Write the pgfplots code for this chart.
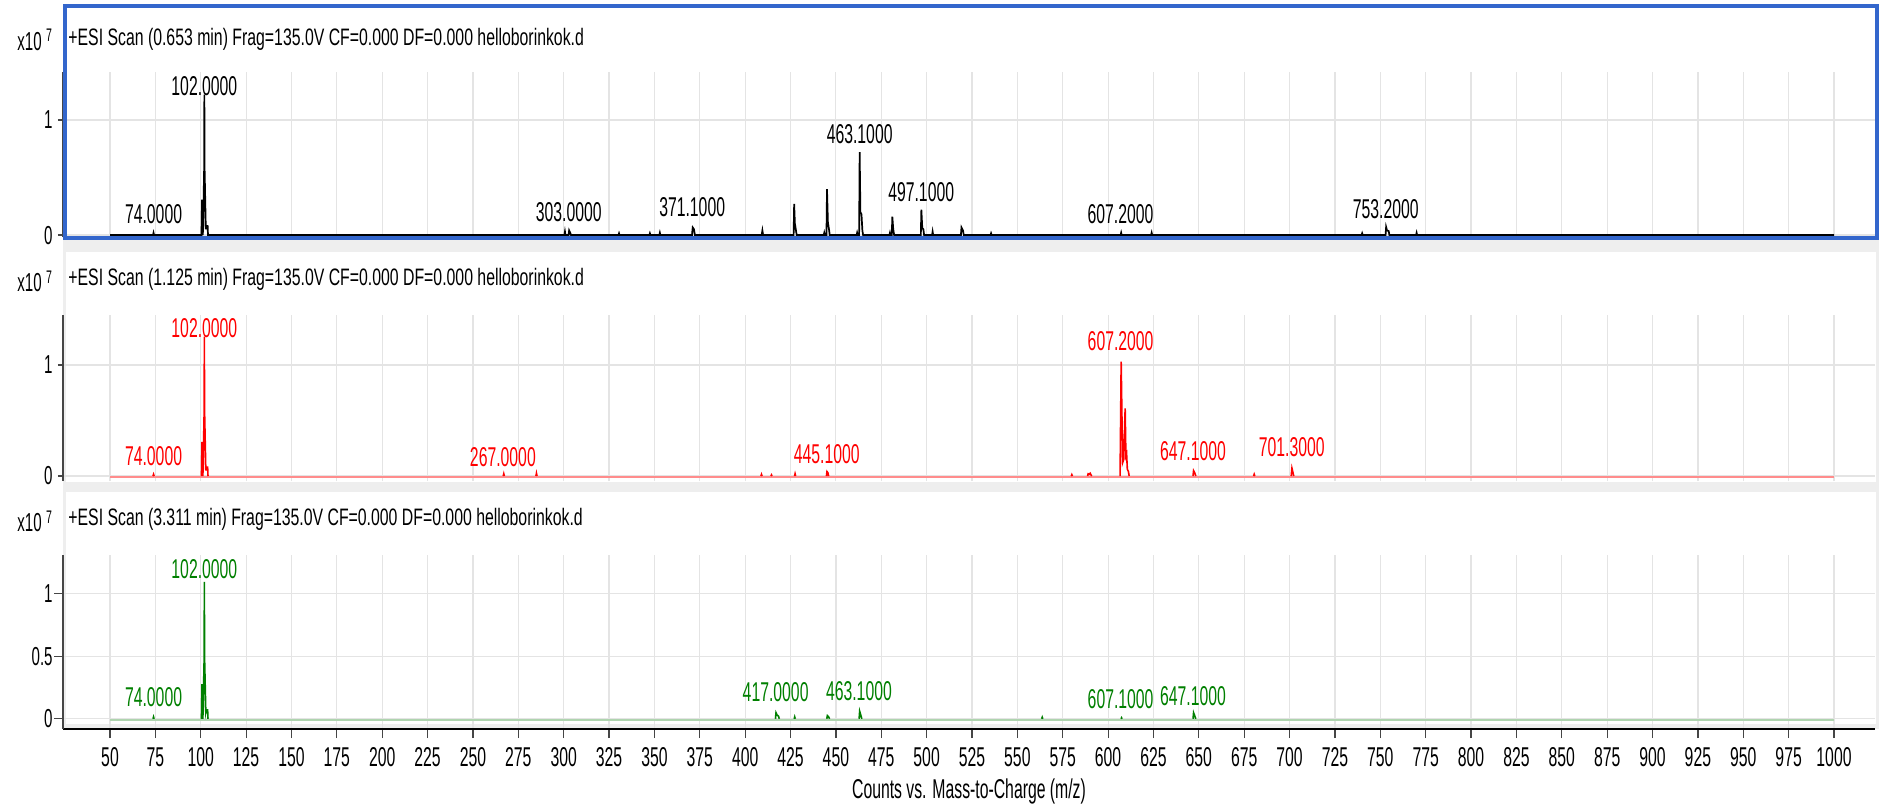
\documentclass[border=0pt]{standalone}
\usepackage{fontspec}
\setmainfont{Liberation Sans}[FakeStretch=0.58]
\newfontfamily\tfont{Liberation Sans}[FakeStretch=0.665]
\usepackage{pgfplots}
\pgfplotsset{compat=1.18}
\definecolor{gridgray}{RGB}{228,228,228}
\definecolor{axgray}{RGB}{70,70,70}
\definecolor{bandgray}{RGB}{238,238,238}
\definecolor{selblue}{RGB}{51,102,204}
\definecolor{trred}{RGB}{255,0,0}
\definecolor{trgreen}{RGB}{0,128,0}
\definecolor{pinkbase}{RGB}{255,140,140}
\definecolor{greenbase}{RGB}{175,212,175}
\newcommand\lab{\fontsize{13.6pt}{15pt}\selectfont}
\newcommand\ylab{\fontsize{13pt}{15pt}\selectfont}
\newcommand\ttl{\tfont\fontsize{11.9pt}{13pt}\selectfont}
\tikzset{pk/.style={font=\lab, anchor=base, inner sep=0pt}}
\pgfplotsset{
  panel/.style={
    scale only axis, width=906pt, xmin=24.1, xmax=1022.6,
    anchor=north west,
    axis x line*=bottom, axis y line*=left,
    xtick={50,75,...,1000},
    grid=major, major grid style={draw=gridgray, line width=0.6pt},
    tick align=outside,
    y axis line style={draw=axgray, line width=0.6pt, -},
    ytick style={draw=axgray, line width=0.6pt},
    /pgf/number format/assume math mode=true,
    /pgf/number format/1000 sep={},
    xticklabel style={font=\lab},
    yticklabel style={font=\ylab, anchor=east, inner sep=0pt, xshift=-2.5pt},
    clip mode=individual,
    unbounded coords=jump,
  },
  nox/.style={xtick style={draw=none}, xticklabels={}, x axis line style={draw=none}, major tick length=2.5pt},
}
\begin{document}
\begin{tikzpicture}
\useasboundingbox (0,0) rectangle (940.5pt,-405.5pt);
% panel backgrounds
\fill[bandgray] (31.5pt,-119.5pt) rectangle (939.5pt,-364.5pt);
\fill[white] (33pt,-126pt) rectangle (938pt,-241pt);
\fill[white] (33pt,-246pt) rectangle (938pt,-362pt);

% ---------------- Panel 1 ----------------
\begin{axis}[panel, nox, at={(31.5pt,-36pt)}, height=82.5pt, ymin=-0.017, ymax=1.417, ytick={0,1}]
\addplot[black, line width=0.85pt] coordinates {
(50,0)
(73.7,0)(74.0,0.02)(74.3,0)
(100.4,0)(100.7,0.30)(100.9,0.30)(101.1,0)(101.3,0.05)(101.9,0.6)(102.0,1.22)(102.1,0.6)(102.8,0.05)(103.1,0.08)(103.8,0.08)(104.0,0)
(300.4,0)(300.7,0.03)(301.0,0)(302.7,0)(303.0,0.04)(303.6,0.02)(304.0,0)
(330.2,0)(330.5,0.015)(330.8,0)
(347.2,0)(347.5,0.015)(347.8,0)
(352.7,0)(353.0,0.02)(353.3,0)
(370.7,0)(371.1,0.066)(371.8,0.05)(372.3,0)
(409.1,0)(409.5,0.04)(409.9,0)
(426.7,0)(427.0,0.27)(427.4,0.10)(427.9,0.05)(428.4,0)
(443.3,0)(443.6,0.02)(443.9,0)(444.8,0)(445.1,0.40)(445.6,0.11)(446.2,0.05)(446.6,0)
(461.4,0)(461.7,0.02)(462.0,0)(462.8,0)(463.1,0.72)(463.5,0.20)(464.1,0.18)(464.6,0.04)(465.0,0)
(479.5,0)(479.8,0.02)(480.1,0)(480.8,0)(481.1,0.16)(481.6,0.05)(482.1,0)
(496.8,0)(497.1,0.22)(497.6,0.06)(498.2,0.05)(498.6,0)
(503.0,0)(503.3,0.03)(503.6,0)
(518.9,0)(519.2,0.066)(520.0,0.04)(520.5,0)
(535.2,0)(535.5,0.015)(535.8,0)
(606.9,0)(607.2,0.02)(607.5,0)
(623.7,0)(624.0,0.02)(624.3,0)
(739.7,0)(740.0,0.015)(740.3,0)
(752.9,0)(753.2,0.07)(753.7,0.04)(754.6,0.035)(755.0,0)
(769.7,0)(770.0,0.02)(770.3,0)
(1000,0)
};
\node[pk] at (axis cs:102,1.21) {102.0000};
\node[pk] at (axis cs:74,0.104) {74.0000};
\node[pk] at (axis cs:302.8,0.116) {303.0000};
\node[pk] at (axis cs:370.8,0.16) {371.1000};
\node[pk] at (axis cs:463.1,0.80) {463.1000};
\node[pk] at (axis cs:497.0,0.29) {497.1000};
\node[pk] at (axis cs:606.8,0.104) {607.2000};
\node[pk] at (axis cs:753.0,0.148) {753.2000};
\end{axis}

% ---------------- Panel 2 ----------------
\begin{axis}[panel, nox, at={(31.5pt,-157.5pt)}, height=83pt, ymin=-0.045, ymax=1.45, ytick={0,1}]
\addplot[pinkbase, line width=1pt] coordinates {(50,-0.01)(1000,-0.01)};
\addplot[trred, line width=0.8pt] coordinates {
(73.7,0)(74.0,0.015)(74.3,0)(74.3,nan)
(100.4,0)(100.7,0.30)(100.9,0.30)(101.1,0)(101.3,0.05)(101.9,0.6)(102.0,1.255)(102.1,0.6)(102.8,0.05)(103.1,0.08)(103.8,0.08)(104.0,0)(104.0,nan)
(266.7,0)(267.0,0.02)(267.3,0)(267.3,nan)
(284.7,0)(285.0,0.025)(285.3,0)(285.3,nan)
(408.7,0)(409.0,0.015)(409.3,0)(409.3,nan)
(414.2,0)(414.5,0.01)(414.8,0)(414.8,nan)
(427.2,0)(427.5,0.02)(427.8,0)(427.8,nan)
(444.8,0)(445.1,0.04)(445.6,0.03)(446.0,0)(446.0,nan)
(579.7,0)(580.0,0.012)(580.3,0)(580.3,nan)
(588.7,0)(589.0,0.02)(589.5,0.015)(590.1,0.025)(590.6,0.01)(591.0,0)(591.0,nan)
(606.6,0)(607.2,1.03)(607.7,0.45)(608.0,0.12)(608.6,0.15)(609.4,0.61)(609.8,0.18)(610.2,0.2)(610.6,0.06)(611.2,0.04)(611.6,0)(611.6,nan)
(646.8,0)(647.1,0.048)(647.7,0.03)(648.3,0)(648.3,nan)
(680.2,0)(680.5,0.015)(680.8,0)(680.8,nan)
(700.9,0)(701.3,0.07)(701.8,0.035)(702.3,0)
};
\begin{scope}[trred]
\node[pk] at (axis cs:102,1.25) {102.0000};
\node[pk] at (axis cs:74,0.099) {74.0000};
\node[pk] at (axis cs:266.5,0.084) {267.0000};
\node[pk] at (axis cs:445.0,0.114) {445.1000};
\node[pk] at (axis cs:606.9,1.13) {607.2000};
\node[pk] at (axis cs:646.8,0.138) {647.1000};
\node[pk] at (axis cs:701.2,0.174) {701.3000};
\end{scope}
\end{axis}

% ---------------- Panel 3 ----------------
\begin{axis}[panel, at={(31.5pt,-277.5pt)}, height=87pt, ymin=-0.082, ymax=1.31, ytick={0,0.5,1},
  major tick length=4.5pt,
  x axis line style={draw=black, line width=0.8pt, -},
  xtick style={draw=axgray, line width=0.6pt},
  xticklabel style={anchor=base, inner sep=0pt, yshift=-14pt},
  yticklabel style={xshift=2pt},
  xlabel={Counts vs. Mass-to-Charge (m/z)},
  xlabel style={font=\lab, yshift=-2.5pt},
]
\addplot[greenbase, line width=1pt] coordinates {(50,-0.008)(1000,-0.008)};
\addplot[trgreen, line width=0.8pt] coordinates {
(73.7,0)(74.0,0.015)(74.3,0)(74.3,nan)
(100.4,0)(100.7,0.27)(100.9,0.27)(101.1,0)(101.3,0.05)(101.9,0.5)(102.0,1.096)(102.1,0.5)(102.8,0.05)(103.1,0.07)(103.8,0.07)(104.0,0)(104.0,nan)
(416.7,0)(417.0,0.048)(417.6,0.03)(418.4,0.02)(418.8,0)(418.8,nan)
(427.0,0)(427.3,0.015)(427.6,0)(427.6,nan)
(445.0,0)(445.3,0.025)(446.0,0.015)(446.5,0)(446.5,nan)
(462.8,0)(463.1,0.06)(463.7,0.03)(464.3,0)(464.3,nan)
(563.4,0)(563.7,0.012)(564.0,0)(564.0,nan)
(607.1,0)(607.4,0.008)(607.7,0)(607.7,nan)
(646.8,0)(647.1,0.048)(647.7,0.025)(648.3,0)
};
\begin{scope}[trgreen]
\node[pk] at (axis cs:102,1.12) {102.0000};
\node[pk] at (axis cs:74,0.096) {74.0000};
\node[pk] at (axis cs:416.8,0.136) {417.0000};
\node[pk] at (axis cs:462.7,0.15) {463.1000};
\node[pk] at (axis cs:606.9,0.083) {607.1000};
\node[pk] at (axis cs:646.8,0.11) {647.1000};
\end{scope}
\end{axis}

% selection frame of panel 1
\draw[selblue, line width=1.75pt] (32.5pt,-3pt) rectangle (938.5pt,-119pt);

% titles and exponent labels
\begin{scope}
\node[font=\ttl, anchor=base west, inner sep=0pt] at (34pt,-22.5pt) {+ESI Scan (0.653 min) Frag=135.0V CF=0.000 DF=0.000 helloborinkok.d};
\node[font=\ttl, anchor=base west, inner sep=0pt] at (34pt,-142.85pt) {+ESI Scan (1.125 min) Frag=135.0V CF=0.000 DF=0.000 helloborinkok.d};
\node[font=\ttl, anchor=base west, inner sep=0pt] at (34pt,-262.85pt) {+ESI Scan (3.311 min) Frag=135.0V CF=0.000 DF=0.000 helloborinkok.d};
\node[font=\ylab, anchor=base west, inner sep=0pt] at (8.5pt,-25pt) {x10\,\textsuperscript{7}};
\node[font=\ylab, anchor=base west, inner sep=0pt] at (8.5pt,-145.85pt) {x10\,\textsuperscript{7}};
\node[font=\ylab, anchor=base west, inner sep=0pt] at (8.5pt,-265.85pt) {x10\,\textsuperscript{7}};
\end{scope}
\end{tikzpicture}
\end{document}
